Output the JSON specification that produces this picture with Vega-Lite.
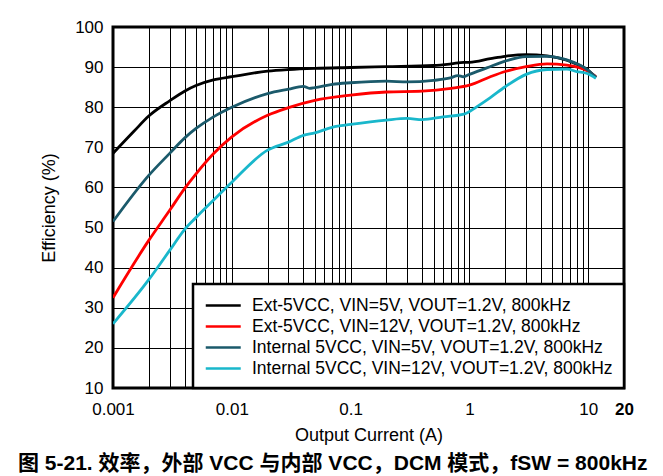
{
  "$schema": "https://vega.github.io/schema/vega-lite/v6.json",
  "width": 511,
  "height": 361,
  "autosize": {"type": "none"},
  "padding": {"left": 113, "top": 27, "right": 39, "bottom": 88},
  "background": "white",
  "config": {
    "font": "Liberation Sans",
    "view": {"stroke": "#000", "strokeWidth": 3},
    "axis": {"domain": false, "ticks": false, "gridColor": "#000", "gridOpacity": 1, "gridWidth": 1, "labelColor": "#000", "titleColor": "#000", "labelFont": "Liberation Sans", "titleFont": "Liberation Sans", "titleFontWeight": "normal"},
    "legend": {"strokeWidth": 2.5}
  },
  "title": {
    "text": "图 5-21. 效率，外部 VCC 与内部 VCC，DCM 模式，fSW = 800kHz",
    "orient": "bottom",
    "anchor": "start",
    "frame": "group",
    "dx": -95,
    "offset": 9,
    "fontSize": 21,
    "fontWeight": "bold",
    "font": "Liberation Sans, Noto Sans CJK SC",
    "color": "#000"
  },
  "data": {
    "values": [
      {"s": "Ext-5VCC, VIN=5V, VOUT=1.2V, 800kHz", "i": 0.001, "e": 68.5},
      {"s": "Ext-5VCC, VIN=5V, VOUT=1.2V, 800kHz", "i": 0.0015, "e": 74.0},
      {"s": "Ext-5VCC, VIN=5V, VOUT=1.2V, 800kHz", "i": 0.002, "e": 77.8},
      {"s": "Ext-5VCC, VIN=5V, VOUT=1.2V, 800kHz", "i": 0.003, "e": 81.6},
      {"s": "Ext-5VCC, VIN=5V, VOUT=1.2V, 800kHz", "i": 0.004, "e": 84.0},
      {"s": "Ext-5VCC, VIN=5V, VOUT=1.2V, 800kHz", "i": 0.005, "e": 85.4},
      {"s": "Ext-5VCC, VIN=5V, VOUT=1.2V, 800kHz", "i": 0.007, "e": 86.8},
      {"s": "Ext-5VCC, VIN=5V, VOUT=1.2V, 800kHz", "i": 0.01, "e": 87.6},
      {"s": "Ext-5VCC, VIN=5V, VOUT=1.2V, 800kHz", "i": 0.02, "e": 89},
      {"s": "Ext-5VCC, VIN=5V, VOUT=1.2V, 800kHz", "i": 0.03, "e": 89.4},
      {"s": "Ext-5VCC, VIN=5V, VOUT=1.2V, 800kHz", "i": 0.05, "e": 89.7},
      {"s": "Ext-5VCC, VIN=5V, VOUT=1.2V, 800kHz", "i": 0.1, "e": 89.9},
      {"s": "Ext-5VCC, VIN=5V, VOUT=1.2V, 800kHz", "i": 0.2, "e": 90.1},
      {"s": "Ext-5VCC, VIN=5V, VOUT=1.2V, 800kHz", "i": 0.5, "e": 90.4},
      {"s": "Ext-5VCC, VIN=5V, VOUT=1.2V, 800kHz", "i": 0.7, "e": 90.8},
      {"s": "Ext-5VCC, VIN=5V, VOUT=1.2V, 800kHz", "i": 0.9, "e": 91.2},
      {"s": "Ext-5VCC, VIN=5V, VOUT=1.2V, 800kHz", "i": 1.0, "e": 91.2},
      {"s": "Ext-5VCC, VIN=5V, VOUT=1.2V, 800kHz", "i": 1.5, "e": 92.1},
      {"s": "Ext-5VCC, VIN=5V, VOUT=1.2V, 800kHz", "i": 2, "e": 92.7},
      {"s": "Ext-5VCC, VIN=5V, VOUT=1.2V, 800kHz", "i": 3, "e": 93.1},
      {"s": "Ext-5VCC, VIN=5V, VOUT=1.2V, 800kHz", "i": 4.5, "e": 92.8},
      {"s": "Ext-5VCC, VIN=5V, VOUT=1.2V, 800kHz", "i": 6.6, "e": 91.7},
      {"s": "Ext-5VCC, VIN=5V, VOUT=1.2V, 800kHz", "i": 8, "e": 90.7},
      {"s": "Ext-5VCC, VIN=5V, VOUT=1.2V, 800kHz", "i": 9.8, "e": 89.4},
      {"s": "Ext-5VCC, VIN=5V, VOUT=1.2V, 800kHz", "i": 11.6, "e": 87.4},

      {"s": "Ext-5VCC, VIN=12V, VOUT=1.2V, 800kHz", "i": 0.001, "e": 32.5},
      {"s": "Ext-5VCC, VIN=12V, VOUT=1.2V, 800kHz", "i": 0.002, "e": 46.8},
      {"s": "Ext-5VCC, VIN=12V, VOUT=1.2V, 800kHz", "i": 0.003, "e": 54.3},
      {"s": "Ext-5VCC, VIN=12V, VOUT=1.2V, 800kHz", "i": 0.004, "e": 59.7},
      {"s": "Ext-5VCC, VIN=12V, VOUT=1.2V, 800kHz", "i": 0.005, "e": 63.4},
      {"s": "Ext-5VCC, VIN=12V, VOUT=1.2V, 800kHz", "i": 0.007, "e": 68.4},
      {"s": "Ext-5VCC, VIN=12V, VOUT=1.2V, 800kHz", "i": 0.01, "e": 72.6},
      {"s": "Ext-5VCC, VIN=12V, VOUT=1.2V, 800kHz", "i": 0.02, "e": 78},
      {"s": "Ext-5VCC, VIN=12V, VOUT=1.2V, 800kHz", "i": 0.03, "e": 79.9},
      {"s": "Ext-5VCC, VIN=12V, VOUT=1.2V, 800kHz", "i": 0.05, "e": 81.7},
      {"s": "Ext-5VCC, VIN=12V, VOUT=1.2V, 800kHz", "i": 0.1, "e": 83},
      {"s": "Ext-5VCC, VIN=12V, VOUT=1.2V, 800kHz", "i": 0.2, "e": 83.8},
      {"s": "Ext-5VCC, VIN=12V, VOUT=1.2V, 800kHz", "i": 0.4, "e": 84},
      {"s": "Ext-5VCC, VIN=12V, VOUT=1.2V, 800kHz", "i": 0.7, "e": 84.7},
      {"s": "Ext-5VCC, VIN=12V, VOUT=1.2V, 800kHz", "i": 1.0, "e": 85.5},
      {"s": "Ext-5VCC, VIN=12V, VOUT=1.2V, 800kHz", "i": 1.5, "e": 87.6},
      {"s": "Ext-5VCC, VIN=12V, VOUT=1.2V, 800kHz", "i": 2, "e": 88.9},
      {"s": "Ext-5VCC, VIN=12V, VOUT=1.2V, 800kHz", "i": 3, "e": 90.1},
      {"s": "Ext-5VCC, VIN=12V, VOUT=1.2V, 800kHz", "i": 4.5, "e": 90.8},
      {"s": "Ext-5VCC, VIN=12V, VOUT=1.2V, 800kHz", "i": 6.6, "e": 90.5},
      {"s": "Ext-5VCC, VIN=12V, VOUT=1.2V, 800kHz", "i": 9.8, "e": 89.1},
      {"s": "Ext-5VCC, VIN=12V, VOUT=1.2V, 800kHz", "i": 11.6, "e": 87.6},

      {"s": "Internal 5VCC, VIN=5V, VOUT=1.2V, 800kHz", "i": 0.001, "e": 51.5},
      {"s": "Internal 5VCC, VIN=5V, VOUT=1.2V, 800kHz", "i": 0.002, "e": 63},
      {"s": "Internal 5VCC, VIN=5V, VOUT=1.2V, 800kHz", "i": 0.003, "e": 68.5},
      {"s": "Internal 5VCC, VIN=5V, VOUT=1.2V, 800kHz", "i": 0.004, "e": 72.3},
      {"s": "Internal 5VCC, VIN=5V, VOUT=1.2V, 800kHz", "i": 0.005, "e": 74.7},
      {"s": "Internal 5VCC, VIN=5V, VOUT=1.2V, 800kHz", "i": 0.007, "e": 77.6},
      {"s": "Internal 5VCC, VIN=5V, VOUT=1.2V, 800kHz", "i": 0.01, "e": 80},
      {"s": "Internal 5VCC, VIN=5V, VOUT=1.2V, 800kHz", "i": 0.02, "e": 83.4},
      {"s": "Internal 5VCC, VIN=5V, VOUT=1.2V, 800kHz", "i": 0.03, "e": 84.5},
      {"s": "Internal 5VCC, VIN=5V, VOUT=1.2V, 800kHz", "i": 0.04, "e": 85.2},
      {"s": "Internal 5VCC, VIN=5V, VOUT=1.2V, 800kHz", "i": 0.045, "e": 84.7},
      {"s": "Internal 5VCC, VIN=5V, VOUT=1.2V, 800kHz", "i": 0.05, "e": 84.9},
      {"s": "Internal 5VCC, VIN=5V, VOUT=1.2V, 800kHz", "i": 0.07, "e": 85.7},
      {"s": "Internal 5VCC, VIN=5V, VOUT=1.2V, 800kHz", "i": 0.1, "e": 86.1},
      {"s": "Internal 5VCC, VIN=5V, VOUT=1.2V, 800kHz", "i": 0.2, "e": 86.5},
      {"s": "Internal 5VCC, VIN=5V, VOUT=1.2V, 800kHz", "i": 0.3, "e": 86.3},
      {"s": "Internal 5VCC, VIN=5V, VOUT=1.2V, 800kHz", "i": 0.5, "e": 86.7},
      {"s": "Internal 5VCC, VIN=5V, VOUT=1.2V, 800kHz", "i": 0.69, "e": 87.3},
      {"s": "Internal 5VCC, VIN=5V, VOUT=1.2V, 800kHz", "i": 0.8, "e": 87.9},
      {"s": "Internal 5VCC, VIN=5V, VOUT=1.2V, 800kHz", "i": 0.89, "e": 87.6},
      {"s": "Internal 5VCC, VIN=5V, VOUT=1.2V, 800kHz", "i": 1.0, "e": 88.2},
      {"s": "Internal 5VCC, VIN=5V, VOUT=1.2V, 800kHz", "i": 1.4, "e": 89.8},
      {"s": "Internal 5VCC, VIN=5V, VOUT=1.2V, 800kHz", "i": 2, "e": 91.5},
      {"s": "Internal 5VCC, VIN=5V, VOUT=1.2V, 800kHz", "i": 3, "e": 92.6},
      {"s": "Internal 5VCC, VIN=5V, VOUT=1.2V, 800kHz", "i": 4.5, "e": 92.7},
      {"s": "Internal 5VCC, VIN=5V, VOUT=1.2V, 800kHz", "i": 6.6, "e": 91.8},
      {"s": "Internal 5VCC, VIN=5V, VOUT=1.2V, 800kHz", "i": 9.8, "e": 89.4},
      {"s": "Internal 5VCC, VIN=5V, VOUT=1.2V, 800kHz", "i": 11.6, "e": 87.5},

      {"s": "Internal 5VCC, VIN=12V, VOUT=1.2V, 800kHz", "i": 0.001, "e": 26},
      {"s": "Internal 5VCC, VIN=12V, VOUT=1.2V, 800kHz", "i": 0.002, "e": 37},
      {"s": "Internal 5VCC, VIN=12V, VOUT=1.2V, 800kHz", "i": 0.003, "e": 44.3},
      {"s": "Internal 5VCC, VIN=12V, VOUT=1.2V, 800kHz", "i": 0.004, "e": 49.5},
      {"s": "Internal 5VCC, VIN=12V, VOUT=1.2V, 800kHz", "i": 0.005, "e": 52.5},
      {"s": "Internal 5VCC, VIN=12V, VOUT=1.2V, 800kHz", "i": 0.007, "e": 56.8},
      {"s": "Internal 5VCC, VIN=12V, VOUT=1.2V, 800kHz", "i": 0.01, "e": 61.3},
      {"s": "Internal 5VCC, VIN=12V, VOUT=1.2V, 800kHz", "i": 0.02, "e": 69.3},
      {"s": "Internal 5VCC, VIN=12V, VOUT=1.2V, 800kHz", "i": 0.03, "e": 71.3},
      {"s": "Internal 5VCC, VIN=12V, VOUT=1.2V, 800kHz", "i": 0.04, "e": 73},
      {"s": "Internal 5VCC, VIN=12V, VOUT=1.2V, 800kHz", "i": 0.05, "e": 73.6},
      {"s": "Internal 5VCC, VIN=12V, VOUT=1.2V, 800kHz", "i": 0.07, "e": 75},
      {"s": "Internal 5VCC, VIN=12V, VOUT=1.2V, 800kHz", "i": 0.1, "e": 75.7},
      {"s": "Internal 5VCC, VIN=12V, VOUT=1.2V, 800kHz", "i": 0.2, "e": 76.8},
      {"s": "Internal 5VCC, VIN=12V, VOUT=1.2V, 800kHz", "i": 0.3, "e": 77.2},
      {"s": "Internal 5VCC, VIN=12V, VOUT=1.2V, 800kHz", "i": 0.4, "e": 76.9},
      {"s": "Internal 5VCC, VIN=12V, VOUT=1.2V, 800kHz", "i": 0.6, "e": 77.6},
      {"s": "Internal 5VCC, VIN=12V, VOUT=1.2V, 800kHz", "i": 0.9, "e": 78.3},
      {"s": "Internal 5VCC, VIN=12V, VOUT=1.2V, 800kHz", "i": 1.15, "e": 80.1},
      {"s": "Internal 5VCC, VIN=12V, VOUT=1.2V, 800kHz", "i": 1.5, "e": 82.4},
      {"s": "Internal 5VCC, VIN=12V, VOUT=1.2V, 800kHz", "i": 2, "e": 85.1},
      {"s": "Internal 5VCC, VIN=12V, VOUT=1.2V, 800kHz", "i": 3, "e": 88.2},
      {"s": "Internal 5VCC, VIN=12V, VOUT=1.2V, 800kHz", "i": 4.5, "e": 89.4},
      {"s": "Internal 5VCC, VIN=12V, VOUT=1.2V, 800kHz", "i": 6.6, "e": 89.5},
      {"s": "Internal 5VCC, VIN=12V, VOUT=1.2V, 800kHz", "i": 8, "e": 88.9},
      {"s": "Internal 5VCC, VIN=12V, VOUT=1.2V, 800kHz", "i": 9.8, "e": 88.4},
      {"s": "Internal 5VCC, VIN=12V, VOUT=1.2V, 800kHz", "i": 11.6, "e": 87.2}
    ]
  },
  "mark": {"type": "line", "strokeWidth": 2.8, "interpolate": "monotone", "clip": true},
  "encoding": {
    "x": {
      "field": "i", "type": "quantitative",
      "scale": {"type": "log", "domain": [0.001, 20], "nice": false},
      "axis": {
        "title": "Output Current (A)",
        "titleFontSize": 18,
        "titlePadding": 9,
        "labelFontSize": 17,
        "labelPadding": 13,
        "labelOverlap": false,
        "labelFlush": false,
        "values": [0.001,0.002,0.003,0.004,0.005,0.006,0.007,0.008,0.009,0.01,0.02,0.03,0.04,0.05,0.06,0.07,0.08,0.09,0.1,0.2,0.3,0.4,0.5,0.6,0.7,0.8,0.9,1,2,3,4,5,6,7,8,9,10,20],
        "labelExpr": "datum.value == 0.001 ? '0.001' : datum.value == 0.01 ? '0.01' : datum.value == 0.1 ? '0.1' : datum.value == 1 ? '1' : datum.value == 10 ? '10' : datum.value == 20 ? '20' : ''",
        "labelFontWeight": {"condition": {"test": "datum.value == 20", "value": "bold"}, "value": "normal"}
      }
    },
    "y": {
      "field": "e", "type": "quantitative",
      "scale": {"domain": [10, 100], "nice": false},
      "axis": {
        "title": "Efficiency (%)",
        "titleFontSize": 18,
        "titlePadding": 16,
        "labelFontSize": 17,
        "labelPadding": 10,
        "values": [10,20,30,40,50,60,70,80,90,100]
      }
    },
    "color": {
      "field": "s", "type": "nominal",
      "scale": {
        "domain": ["Ext-5VCC, VIN=5V, VOUT=1.2V, 800kHz", "Ext-5VCC, VIN=12V, VOUT=1.2V, 800kHz", "Internal 5VCC, VIN=5V, VOUT=1.2V, 800kHz", "Internal 5VCC, VIN=12V, VOUT=1.2V, 800kHz"],
        "range": ["#000000", "#ff0000", "#1b5a6b", "#19b7cb"]
      },
      "legend": {
        "title": null,
        "orient": "bottom-right",
        "offset": 0,
        "direction": "vertical",
        "fillColor": "white",
        "strokeColor": "#000",
        "padding": 11,
        "symbolType": "M-1,0H3",
        "symbolSize": 306,
        "symbolStrokeWidth": 2.6,
        "labelFontSize": 17.5,
        "labelOffset": 27,
        "labelLimit": 440,
        "labelColor": "#000",
        "rowPadding": 2
      }
    }
  }
}
